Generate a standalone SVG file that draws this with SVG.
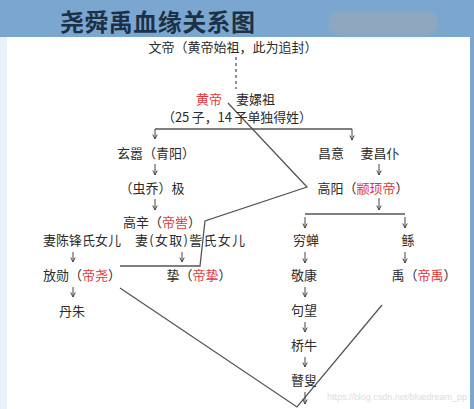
<svg xmlns="http://www.w3.org/2000/svg" width="474" height="409" viewBox="0 0 474 409">
<defs>
<marker id="ah" markerWidth="6" markerHeight="6" refX="5.5" refY="3" orient="auto" markerUnits="userSpaceOnUse" viewBox="0 0 6 6">
<path d="M1,0.8 L5.5,3 L1,5.2" fill="none" stroke="#444" stroke-width="1"/>
</marker>
<filter id="blur" x="-20%" y="-50%" width="140%" height="200%"><feGaussianBlur stdDeviation="2"/></filter>
</defs>
<style>
text{font-family:"Noto Sans CJK SC","Noto Sans CJK TC",sans-serif;font-size:13px;fill:#2b2b2b;text-anchor:middle}
.r{fill:#e3373c}
.s{text-anchor:start}
.ln{fill:none;stroke:#555;stroke-width:1.3}
.ar{stroke:#444;stroke-width:1;marker-end:url(#ah)}
.title{font-size:24px;font-weight:bold;fill:#1c3148;text-anchor:start}
</style>
<rect x="0" y="0" width="474" height="409" fill="#ffffff"/>
<rect x="0" y="36" width="7" height="373" fill="#e6f1fa"/>
<rect x="470" y="36" width="4" height="373" fill="#7aa6cf"/>
<g id="header">
<rect x="0" y="0" width="474" height="37" fill="#7aa6cf"/>
<rect x="328" y="11" width="110" height="24" rx="12" fill="#8fa8bf" filter="url(#blur)"/>
<text class="title" x="60" y="31" textLength="195">尧舜禹血缘关系图</text>
</g>
<g id="connectors">
<line x1="236" y1="57" x2="236" y2="89" stroke="#555" stroke-width="1.3" stroke-dasharray="3,3"/>
<polyline class="ln" points="228,103 307,187 205,221 200,266 120,266"/>
<polyline class="ln" points="120,288 297,407 382,305"/>
<polyline class="ln" points="155,129 352,129"/>
<line class="ar" x1="155" y1="129" x2="155" y2="139"/>
<line class="ar" x1="352" y1="129" x2="352" y2="140"/>
<line class="ar" x1="155" y1="164" x2="155" y2="175"/>
<line class="ar" x1="155" y1="199" x2="155" y2="210"/>
<line class="ar" x1="73" y1="252" x2="73" y2="262"/>
<line class="ar" x1="182" y1="252" x2="182" y2="262"/>
<line class="ar" x1="73" y1="287" x2="73" y2="297"/>
<line class="ar" x1="379" y1="164" x2="379" y2="175"/>
<line class="ar" x1="379" y1="198" x2="379" y2="210"/>
<polyline class="ln" points="305,214 405,214"/>
<line class="ar" x1="305" y1="217" x2="305" y2="228"/>
<line class="ar" x1="405" y1="217" x2="405" y2="228"/>
<line class="ar" x1="305" y1="252" x2="305" y2="263"/>
<line class="ar" x1="405" y1="252" x2="405" y2="263"/>
<line class="ar" x1="305" y1="287" x2="305" y2="297"/>
<line class="ar" x1="305" y1="322" x2="305" y2="332"/>
<line class="ar" x1="305" y1="357" x2="305" y2="367"/>
<line class="ar" x1="305" y1="392" x2="305" y2="404"/>
</g>
<g id="wendi"><text x="233" y="52">文帝（黄帝始祖，此为追封）</text></g>
<g id="huangdi"><text class="s r" x="196" y="104">黄帝</text><text class="s" x="236" y="104">妻嫘祖</text></g>
<g id="note25"><text x="237" y="122" textLength="150">（25 子，14 子单独得姓）</text></g>
<g id="xuanxiao"><text x="156" y="158">玄嚣（青阳）</text></g>
<g id="jiaoji"><text x="152" y="193">（虫乔）极</text></g>
<g id="gaoxin"><text x="162" y="227">高辛（<tspan class="r">帝喾</tspan>）</text></g>
<g id="chenfeng"><text x="82" y="245">妻陈锋氏女儿</text></g>
<g id="juzi"><text x="190" y="245" textLength="110">妻(女取)訾氏女儿</text></g>
<g id="fangxun"><text x="82" y="280">放勋（<tspan class="r">帝尧</tspan>）</text></g>
<g id="zhi"><text x="199" y="280">挚（<tspan class="r">帝挚</tspan>）</text></g>
<g id="danzhu"><text x="72" y="316">丹朱</text></g>
<g id="changyi"><text x="331" y="158">昌意</text><text x="380" y="158">妻昌仆</text></g>
<g id="gaoyang"><text x="363" y="193">高阳（<tspan class="r">颛顼帝</tspan>）</text></g>
<g id="qiongchan"><text x="306" y="245">穷蝉</text></g>
<g id="gun"><text x="408" y="245">鲧</text></g>
<g id="jingkang"><text x="304" y="280">敬康</text></g>
<g id="yu"><text x="424" y="280">禹（<tspan class="r">帝禹</tspan>）</text></g>
<g id="juwang"><text x="304" y="315">句望</text></g>
<g id="qiaoniu"><text x="304" y="350">桥牛</text></g>
<g id="gusou"><text x="304" y="385">瞽叟</text></g>
<text x="467" y="400" textLength="140" style="font-family:'Liberation Sans',sans-serif;font-size:9px;fill:#dddddd;text-anchor:end">https://blog.csdn.net/bluedream_pp</text>
</svg>
